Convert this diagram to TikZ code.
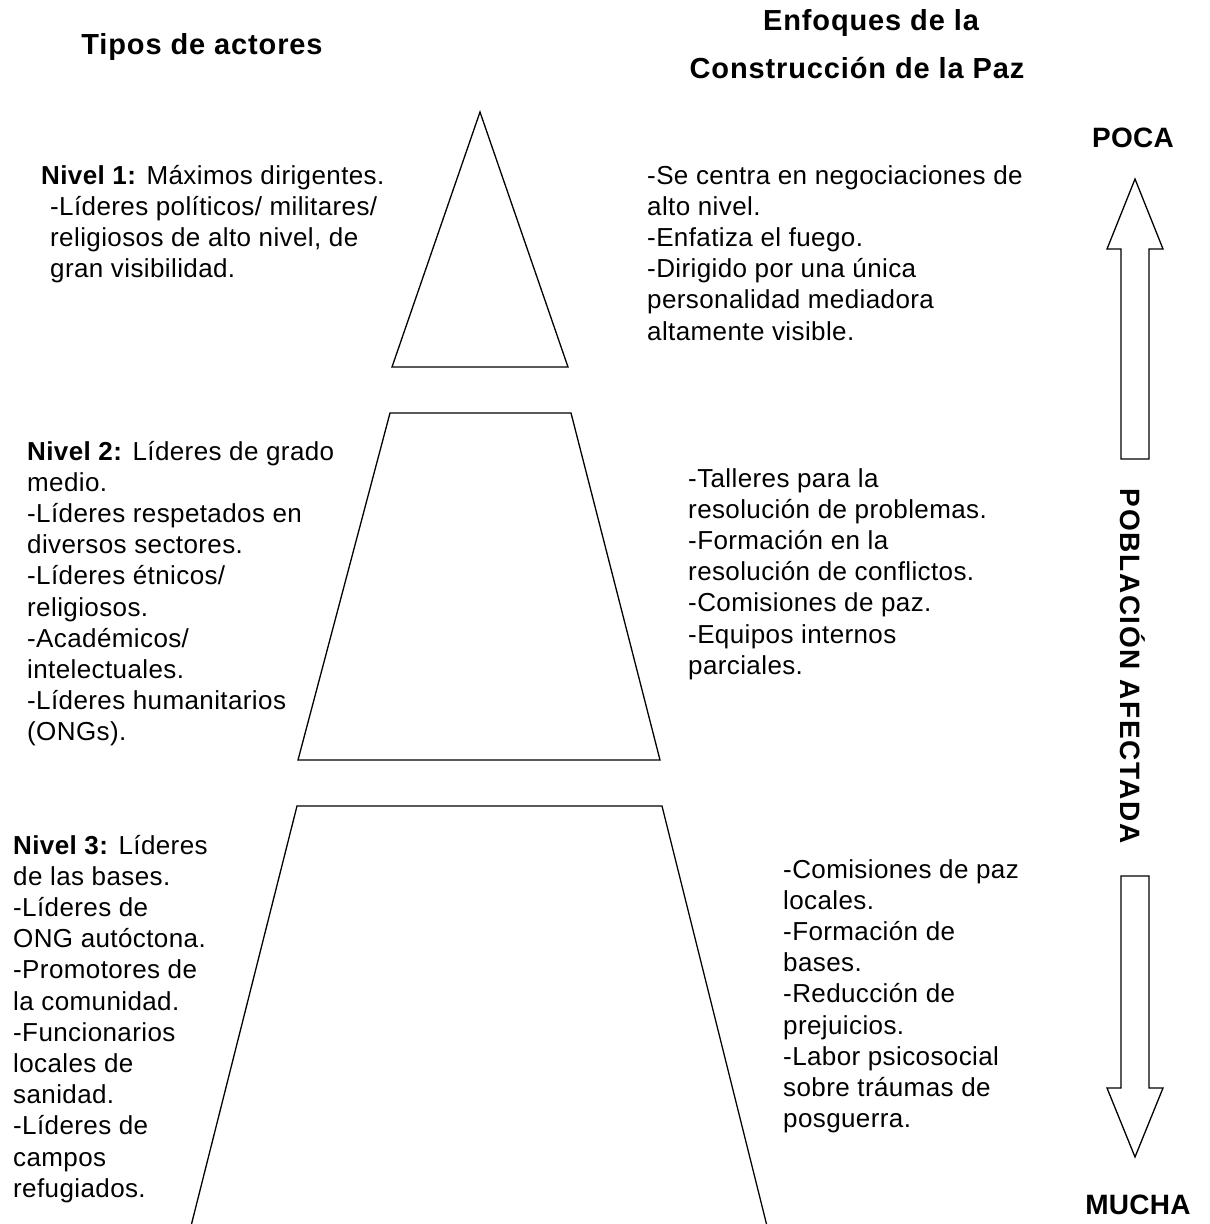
\documentclass[tikz,border=0pt]{standalone}
\usepackage{fontspec}
\setmainfont{Liberation Sans}
\newcommand\bodyfnt{\fontsize{26}{31.2}\selectfont\addfontfeatures{LetterSpace=1.5}}
\newcommand\headfnt{\fontsize{29}{34}\selectfont\bfseries\addfontfeatures{LetterSpace=3}}
\newcommand\capfnt{\fontsize{28}{32}\selectfont\bfseries\addfontfeatures{LetterSpace=1}}
\newcommand\widecap{\addfontfeatures{LetterSpace=6}}
\newcommand\lines[1]{\begin{tabular}[t]{@{}l@{}}#1\end{tabular}}
\begin{document}
\begin{tikzpicture}[x=1pt,y=-1pt,
  outln/.style={draw=black,line width=1.3pt,line join=miter},
  body/.style={anchor=base west,inner sep=0pt,font=\bodyfnt,text=black},
  head/.style={anchor=base,inner sep=0pt,font=\headfnt,text=black},
  capt/.style={anchor=base,inner sep=0pt,font=\capfnt,text=black}]
\fill[white] (0,0) rectangle (1210,1224);
\useasboundingbox (0,0) rectangle (1210,1224);
\clip (0,0) rectangle (1210,1224);

% headers
\node[head] (h1) at (202,54) {Tipos de actores};
\node[head] (h2) at (871,30) {Enfoques de la};
\node[head] (h3) at (857,78) {Construcción de la Paz};

% pyramid pieces
\draw[outln] (480,112) -- (568,367) -- (392,367) -- cycle;
\draw[outln] (390,413) -- (571,413) -- (660,760) -- (298,760) -- cycle;
\draw[outln] (190,1230) -- (297,806) -- (662,806) -- (768,1230);

% left texts
\node[body] (l1) at (41,184) {\lines{\textbf{Nivel 1:} Máximos dirigentes.\\
 \hspace{9pt}-Líderes políticos/ militares/\\
 \hspace{9pt}religiosos de alto nivel, de\\
 \hspace{9pt}gran visibilidad.}};
\node[body] (l2) at (27,460) {\lines{\textbf{Nivel 2:} Líderes de grado\\
 medio.\\ -Líderes respetados en\\ diversos sectores.\\ -Líderes étnicos/\\
 religiosos.\\ -Académicos/\\ intelectuales.\\ -Líderes humanitarios\\ (ONGs).}};
\node[body] (l3) at (13,854) {\lines{\textbf{Nivel 3:} Líderes\\ de las bases.\\
 -Líderes de\\ ONG autóctona.\\ -Promotores de\\ la comunidad.\\ -Funcionarios\\
 locales de\\ sanidad.\\ -Líderes de\\ campos\\ refugiados.}};

% right texts
\node[body] (r1) at (647,184) {\lines{-Se centra en negociaciones de\\ alto nivel.\\
 -Enfatiza el fuego.\\ -Dirigido por una única\\ personalidad mediadora\\ altamente visible.}};
\node[body] (r2) at (688,487) {\lines{-Talleres para la\\ resolución de problemas.\\
 -Formación en la\\ resolución de conflictos.\\ -Comisiones de paz.\\ -Equipos internos\\ parciales.}};
\node[body] (r3) at (783,878) {\lines{-Comisiones de paz\\ locales.\\ -Formación de\\ bases.\\
 -Reducción de\\ prejuicios.\\ -Labor psicosocial\\ sobre tráumas de\\ posguerra.}};

% population scale
\node[capt] (poca) at (1133,147) {POCA};
\node[capt] (mucha) at (1138,1214) {MUCHA};
\node[capt,anchor=center,rotate=-90] (pob) at (1133,666) {\widecap POBLACIÓN AFECTADA};
\draw[outln] (1135,179) -- (1163,249) -- (1149,249) -- (1149,459) -- (1121,459)
  -- (1121,249) -- (1107,249) -- cycle;
\draw[outln] (1121,876) -- (1149,876) -- (1149,1088) -- (1163,1088) -- (1135,1157)
  -- (1107,1088) -- (1121,1088) -- cycle;
\end{tikzpicture}
\end{document}
